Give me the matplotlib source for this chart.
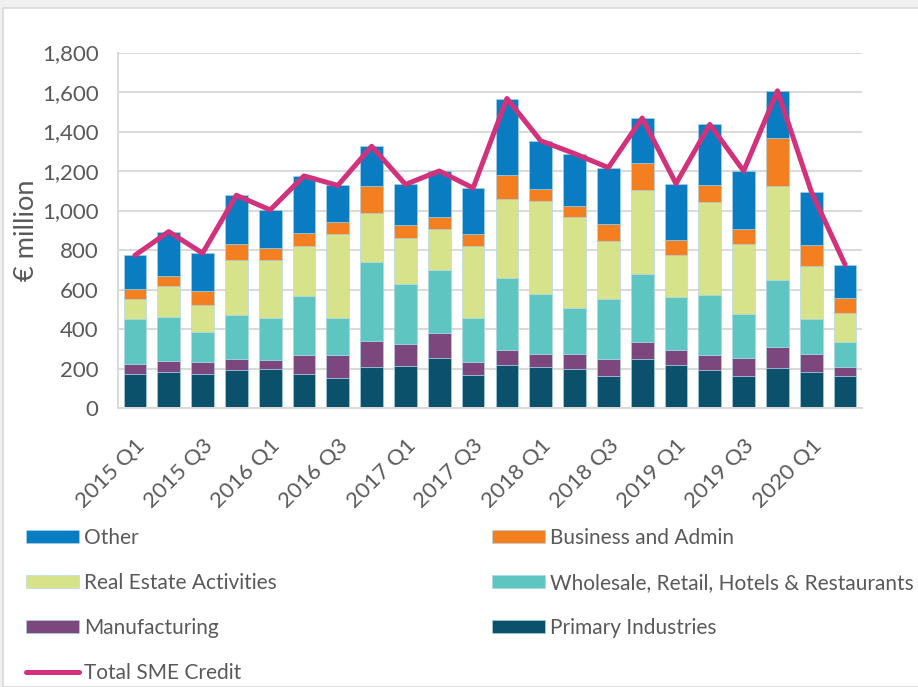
import matplotlib.pyplot as plt
import numpy as np
from matplotlib.patches import Rectangle
from matplotlib.lines import Line2D

plt.rcParams['font.family'] = ['Lato', 'DejaVu Sans']

# quarters 2015 Q1 .. 2020 Q2
quarters = ['2015 Q1', '2015 Q2', '2015 Q3', '2015 Q4',
            '2016 Q1', '2016 Q2', '2016 Q3', '2016 Q4',
            '2017 Q1', '2017 Q2', '2017 Q3', '2017 Q4',
            '2018 Q1', '2018 Q2', '2018 Q3', '2018 Q4',
            '2019 Q1', '2019 Q2', '2019 Q3', '2019 Q4',
            '2020 Q1', '2020 Q2']

# € million
primary = [174, 180, 174, 194, 197, 174, 153, 206, 214, 254, 165, 219,
           209, 196, 162, 249, 216, 194, 163, 201, 184, 160]
manufacturing = [48, 58, 60, 54, 46, 96, 117, 131, 111, 127, 66, 76,
                 66, 79, 87, 86, 77, 76, 91, 109, 87, 46]
wholesale = [228, 225, 152, 222, 212, 298, 185, 401, 303, 318, 226, 364,
             303, 232, 304, 346, 268, 301, 223, 339, 180, 129]
real_estate = [100, 154, 138, 278, 293, 254, 425, 251, 233, 208, 364, 398,
               471, 459, 295, 423, 212, 470, 352, 473, 267, 144]
business = [55, 50, 68, 84, 62, 63, 62, 133, 64, 59, 62, 123,
            61, 59, 85, 135, 76, 86, 76, 243, 106, 79]
other = [168, 226, 192, 245, 193, 290, 185, 203, 207, 234, 231, 387,
         243, 263, 284, 229, 287, 309, 295, 241, 272, 168]
total = [773, 893, 784, 1077, 1003, 1175, 1127, 1325, 1132, 1200, 1114, 1567,
         1353, 1288, 1217, 1468, 1136, 1436, 1200, 1606, 1096, 726]

series = [
    ('Primary Industries', primary, '#0C516B'),
    ('Manufacturing', manufacturing, '#7B477C'),
    ('Wholesale, Retail, Hotels & Restaurants', wholesale, '#5FC5C1'),
    ('Real Estate Activities', real_estate, '#D6E38A'),
    ('Business and Admin', business, '#F47F20'),
    ('Other', other, '#0A7DC2'),
]

fig = plt.figure(figsize=(9.18, 6.87), dpi=100)
fig.patch.set_facecolor('#F0F0F0')
fig.patches.append(Rectangle((3 / 918, 0), 1, 1 - 8 / 687, transform=fig.transFigure,
                             facecolor='white', edgecolor='#D9D9D9', lw=1.2, zorder=-10))

ax = fig.add_axes([118 / 918, 1 - 408 / 687, (862 - 118) / 918, (408 - 52.5) / 687])
ax.set_facecolor('none')

x = np.arange(len(quarters))
bottom = np.zeros(len(quarters))
handles = {}
for name, vals, col in series:
    b = ax.bar(x, vals, width=0.67, bottom=bottom, color=col,
               edgecolor='#A9D6EA', linewidth=0.4, zorder=2)
    handles[name] = b
    bottom += np.array(vals)

line, = ax.plot(x, total, color='#D2317C', lw=3.6, zorder=3,
                solid_joinstyle='round', solid_capstyle='round')

ax.set_xlim(-0.5, len(quarters) - 0.5)
ax.set_ylim(0, 1800)
ax.set_yticks(np.arange(0, 1801, 200))
ax.set_yticklabels([f'{v:,}' for v in range(0, 1801, 200)])
ax.yaxis.grid(True, color='#D9D9D9', lw=1.4, zorder=0)
ax.set_axisbelow(True)
ax.set_xticks(x[::2])
ax.set_xticklabels(quarters[::2], rotation=45, ha='right', rotation_mode='anchor')
ax.tick_params(axis='y', length=0, labelsize=16, colors='#595959', pad=14)
ax.tick_params(axis='x', length=0, labelsize=16, colors='#595959', pad=20)
for s in ['top', 'right']:
    ax.spines[s].set_visible(False)
for s in ['left', 'bottom']:
    ax.spines[s].set_color('#D9D9D9')
    ax.spines[s].set_linewidth(1.4)
ax.set_ylabel('€ million', fontsize=19.5, color='#595959', labelpad=2)

leg_kw = dict(frameon=False, fontsize=15, labelcolor='#595959', handlelength=2.55,
              handleheight=0.6, handletextpad=0.25, labelspacing=1.2, borderaxespad=0,
              borderpad=0, loc='upper left')
total_handle = Line2D([], [], color='#D2317C', lw=3.6, solid_capstyle='round')
left_names = ['Other', 'Real Estate Activities', 'Manufacturing']
fig.legend([handles[n] for n in left_names] + [total_handle],
           left_names + ['Total SME Credit'],
           bbox_to_anchor=(26 / 918, 1 - 528 / 687), **leg_kw)
right_names = ['Business and Admin', 'Wholesale, Retail, Hotels & Restaurants',
               'Primary Industries']
fig.legend([handles[n] for n in right_names], right_names,
           bbox_to_anchor=(492 / 918, 1 - 528 / 687), **leg_kw)

fig.savefig('out.png', dpi=100, facecolor=fig.get_facecolor())
